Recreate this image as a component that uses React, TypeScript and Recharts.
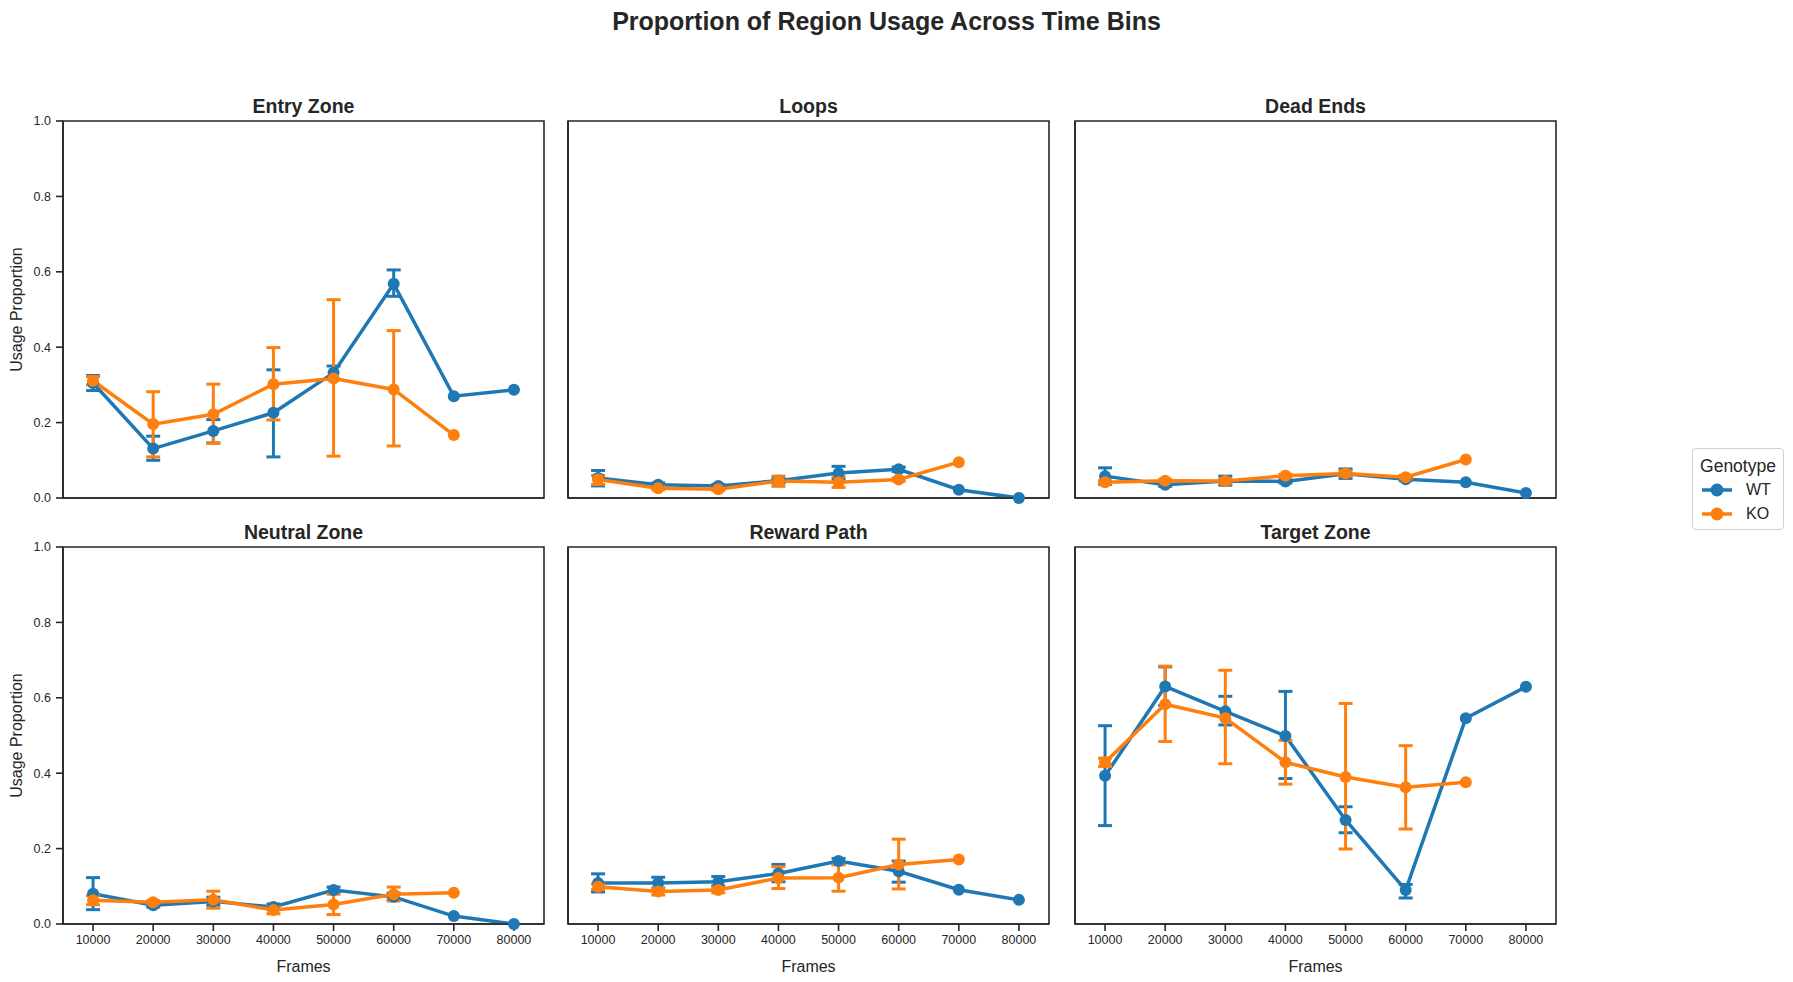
import React from "react";
import { LineChart, Line, XAxis, YAxis, ErrorBar, ReferenceArea } from "recharts";

// time bins (x categories)
const frames = [10000, 20000, 30000, 40000, 50000, 60000, 70000, 80000];
const yTicks = [0, 0.2, 0.4, 0.6, 0.8, 1.0];

// Entry Zone
const entryWT = [0.305, 0.131, 0.178, 0.226, 0.332, 0.568, 0.27, 0.287];
const entryWTLo = [0.285, 0.1, 0.146, 0.109, 0.315, 0.535, null, null];
const entryWTHi = [0.325, 0.164, 0.208, 0.34, 0.35, 0.605, null, null];
const entryKO = [0.311, 0.196, 0.222, 0.302, 0.317, 0.288, 0.167, null];
const entryKOLo = [0.3, 0.109, 0.145, 0.207, 0.111, 0.138, null, null];
const entryKOHi = [0.322, 0.282, 0.302, 0.399, 0.526, 0.444, null, null];

// Loops
const loopsWT = [0.053, 0.035, 0.032, 0.046, 0.066, 0.076, 0.022, 0.0];
const loopsWTLo = [0.032, 0.03, 0.028, 0.04, 0.05, 0.07, null, null];
const loopsWTHi = [0.073, 0.04, 0.036, 0.052, 0.084, 0.082, null, null];
const loopsKO = [0.049, 0.026, 0.023, 0.045, 0.042, 0.049, 0.095, null];
const loopsKOLo = [0.036, 0.022, 0.02, 0.031, 0.028, 0.045, null, null];
const loopsKOHi = [0.06, 0.03, 0.026, 0.058, 0.057, 0.053, null, null];

// Dead Ends
const deadWT = [0.058, 0.035, 0.045, 0.044, 0.064, 0.05, 0.042, 0.013];
const deadWTLo = [0.036, 0.031, 0.034, 0.04, 0.052, 0.046, null, null];
const deadWTHi = [0.08, 0.039, 0.058, 0.048, 0.077, 0.054, null, null];
const deadKO = [0.042, 0.046, 0.045, 0.059, 0.065, 0.055, 0.102, null];
const deadKOLo = [0.038, 0.042, 0.038, 0.055, 0.058, 0.05, null, null];
const deadKOHi = [0.046, 0.05, 0.052, 0.063, 0.072, 0.06, null, null];

// Neutral Zone
const neutralWT = [0.08, 0.05, 0.06, 0.045, 0.09, 0.072, 0.021, 0.0];
const neutralWTLo = [0.038, 0.045, 0.05, 0.038, 0.083, 0.064, null, null];
const neutralWTHi = [0.123, 0.056, 0.071, 0.053, 0.098, 0.082, null, null];
const neutralKO = [0.063, 0.058, 0.064, 0.037, 0.052, 0.079, 0.083, null];
const neutralKOLo = [0.051, 0.054, 0.042, 0.027, 0.025, 0.061, null, null];
const neutralKOHi = [0.075, 0.062, 0.087, 0.046, 0.079, 0.098, null, null];

// Reward Path
const rewardWT = [0.109, 0.109, 0.112, 0.134, 0.167, 0.14, 0.091, 0.064];
const rewardWTLo = [0.085, 0.095, 0.101, 0.112, 0.16, 0.111, null, null];
const rewardWTHi = [0.133, 0.124, 0.126, 0.158, 0.174, 0.167, null, null];
const rewardKO = [0.099, 0.086, 0.09, 0.122, 0.123, 0.158, 0.171, null];
const rewardKOLo = [0.092, 0.077, 0.083, 0.094, 0.087, 0.093, null, null];
const rewardKOHi = [0.106, 0.095, 0.097, 0.152, 0.157, 0.225, null, null];

// Target Zone
const targetWT = [0.393, 0.63, 0.564, 0.499, 0.276, 0.09, 0.546, 0.629];
const targetWTLo = [0.261, 0.58, 0.528, 0.386, 0.242, 0.069, null, null];
const targetWTHi = [0.526, 0.682, 0.604, 0.617, 0.311, 0.105, null, null];
const targetKO = [0.429, 0.583, 0.546, 0.429, 0.39, 0.363, 0.376, null];
const targetKOLo = [0.418, 0.484, 0.425, 0.371, 0.199, 0.252, null, null];
const targetKOHi = [0.44, 0.684, 0.673, 0.487, 0.585, 0.473, null, null];

const WT_COLOR = "#1f77b4";
const KO_COLOR = "#ff7f0e";
const INK = "#262626";
const FONT = "'Liberation Sans', Arial, sans-serif";

// layout (px)
const COL_X = [63, 568, 1075];
const ROW_Y = [121, 547];
const PLOT_W = 481;
const PLOT_H = 377;
const Y_W = 63;
const M_TOP = 12;
const M_RIGHT = 5;

function buildRows(wt, wtLo, wtHi, ko, koLo, koHi) {
  return frames.map((f, i) => ({
    frame: f,
    wt: wt[i],
    ko: ko[i],
    wtErr: wtLo[i] == null ? null : [wt[i] - wtLo[i], wtHi[i] - wt[i]],
    koErr: koLo[i] == null ? null : [ko[i] - koLo[i], koHi[i] - ko[i]],
  }));
}

const panels = [
  { title: "Entry Zone", col: 0, row: 0, data: buildRows(entryWT, entryWTLo, entryWTHi, entryKO, entryKOLo, entryKOHi) },
  { title: "Loops", col: 1, row: 0, data: buildRows(loopsWT, loopsWTLo, loopsWTHi, loopsKO, loopsKOLo, loopsKOHi) },
  { title: "Dead Ends", col: 2, row: 0, data: buildRows(deadWT, deadWTLo, deadWTHi, deadKO, deadKOLo, deadKOHi) },
  { title: "Neutral Zone", col: 0, row: 1, data: buildRows(neutralWT, neutralWTLo, neutralWTHi, neutralKO, neutralKOLo, neutralKOHi) },
  { title: "Reward Path", col: 1, row: 1, data: buildRows(rewardWT, rewardWTLo, rewardWTHi, rewardKO, rewardKOLo, rewardKOHi) },
  { title: "Target Zone", col: 2, row: 1, data: buildRows(targetWT, targetWTLo, targetWTHi, targetKO, targetKOLo, targetKOHi) },
];

function Panel({ title, col, row, data }) {
  const bottomRow = row === 1;
  const firstCol = col === 0;
  const xH = bottomRow ? 56 : 12;
  const tickStyle = { fill: INK, fontSize: 12.5, fontFamily: FONT };
  return (
    <>
      <div
        style={{
          position: "absolute",
          left: COL_X[col],
          top: ROW_Y[row] - 25,
          width: PLOT_W,
          textAlign: "center",
          fontWeight: "bold",
          fontSize: 19.5,
          lineHeight: "20px",
          color: INK,
        }}
      >
        {title}
      </div>
      <div style={{ position: "absolute", left: COL_X[col] - Y_W, top: ROW_Y[row] - M_TOP }}>
        <LineChart
          width={Y_W + PLOT_W + M_RIGHT}
          height={M_TOP + PLOT_H + xH}
          data={data}
          margin={{ top: M_TOP, right: M_RIGHT, left: 0, bottom: 0 }}
        >
          <XAxis
            dataKey="frame"
            type="number"
            domain={[5000, 85000]}
            ticks={frames}
            interval={0}
            height={xH}
            stroke={INK}
            strokeWidth={1.6}
            tickSize={7}
            tickMargin={4}
            tick={bottomRow ? tickStyle : false}
            label={
              bottomRow
                ? { value: "Frames", position: "insideBottom", offset: 8, fill: INK, fontSize: 16, fontFamily: FONT }
                : undefined
            }
          />
          <YAxis
            type="number"
            domain={[0, 1]}
            ticks={yTicks}
            interval={0}
            width={Y_W}
            stroke={INK}
            strokeWidth={1.6}
            tickSize={7}
            tickMargin={5}
            tickFormatter={(v) => v.toFixed(1)}
            tick={firstCol ? tickStyle : false}
            label={
              firstCol
                ? {
                    value: "Usage Proportion",
                    angle: -90,
                    position: "insideLeft",
                    offset: 16,
                    fill: INK,
                    fontSize: 16,
                    fontFamily: FONT,
                    style: { textAnchor: "middle" },
                  }
                : undefined
            }
          />
          <ReferenceArea x1={5000} x2={85000} y1={0} y2={1} fill="none" stroke={INK} strokeWidth={1.6} />
          <Line
            dataKey="wt"
            type="linear"
            stroke={WT_COLOR}
            strokeWidth={3.5}
            dot={{ r: 6, fill: WT_COLOR, stroke: WT_COLOR, strokeWidth: 0 }}
            activeDot={false}
            isAnimationActive={false}
          >
            <ErrorBar dataKey="wtErr" direction="y" width={7} stroke={WT_COLOR} strokeWidth={3} />
          </Line>
          <Line
            dataKey="ko"
            type="linear"
            stroke={KO_COLOR}
            strokeWidth={3.5}
            dot={{ r: 6, fill: KO_COLOR, stroke: KO_COLOR, strokeWidth: 0 }}
            activeDot={false}
            isAnimationActive={false}
          >
            <ErrorBar dataKey="koErr" direction="y" width={7} stroke={KO_COLOR} strokeWidth={3} />
          </Line>
        </LineChart>
      </div>
    </>
  );
}

function LegendHandle({ color }) {
  return (
    <svg width={32} height={14} style={{ display: "block" }}>
      <line x1={1} y1={7} x2={31} y2={7} stroke={color} strokeWidth={3.5} />
      <circle cx={16} cy={7} r={6.5} fill={color} />
    </svg>
  );
}

export default function App() {
  return (
    <div
      style={{
        position: "absolute",
        left: 0,
        top: 0,
        width: 1793,
        height: 982,
        background: "#fff",
        fontFamily: FONT,
        color: INK,
      }}
    >
      <div
        style={{
          position: "absolute",
          left: -10,
          width: 1793,
          top: 7,
          textAlign: "center",
          fontWeight: "bold",
          fontSize: 25,
          lineHeight: "28px",
        }}
      >
        Proportion of Region Usage Across Time Bins
      </div>
      {panels.map((p) => (
        <Panel key={p.title} {...p} />
      ))}
      <div
        style={{
          position: "absolute",
          left: 1692,
          top: 448,
          width: 92,
          height: 82,
          border: "1px solid #d0d0d0",
          borderRadius: 4,
          boxSizing: "border-box",
        }}
      >
        <div style={{ textAlign: "center", fontSize: 17.5, lineHeight: "20px", marginTop: 7 }}>Genotype</div>
        <div style={{ display: "flex", alignItems: "center", marginTop: 4, marginLeft: 8 }}>
          <LegendHandle color={WT_COLOR} />
          <span style={{ fontSize: 16, marginLeft: 13, lineHeight: "20px" }}>WT</span>
        </div>
        <div style={{ display: "flex", alignItems: "center", marginTop: 4, marginLeft: 8 }}>
          <LegendHandle color={KO_COLOR} />
          <span style={{ fontSize: 16, marginLeft: 13, lineHeight: "20px" }}>KO</span>
        </div>
      </div>
    </div>
  );
}
